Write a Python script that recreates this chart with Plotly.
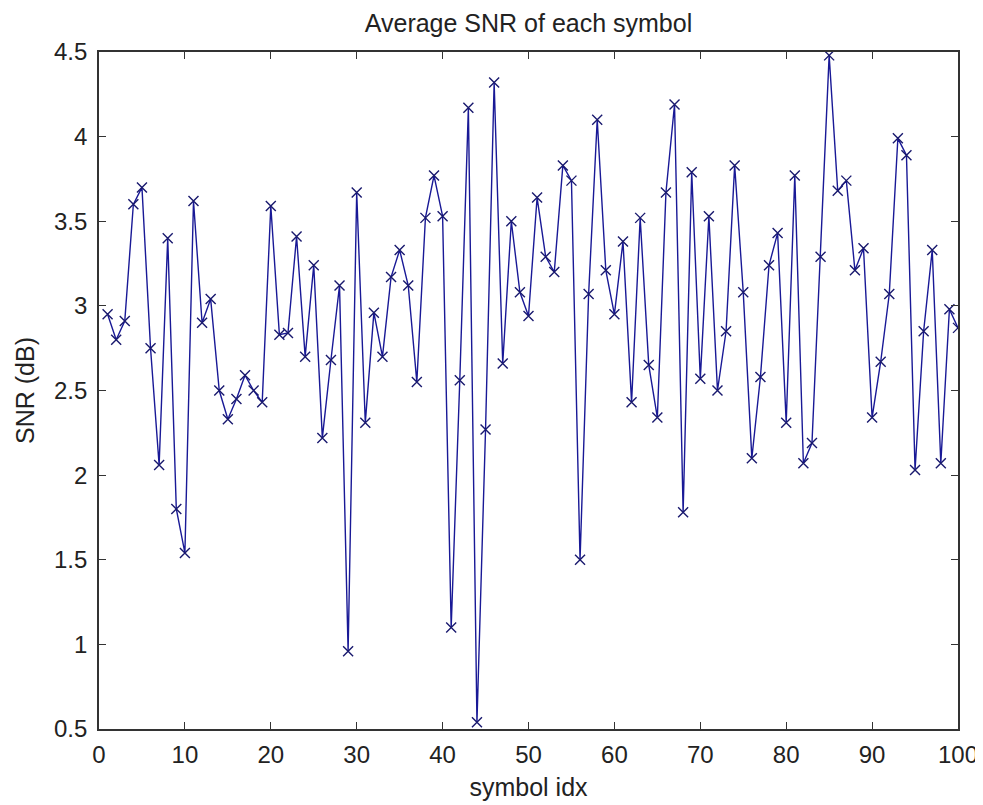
import plotly.graph_objects as go

# symbol index and average SNR (dB)
symbol_idx = list(range(1, 101))
snr_db = [
    2.95, 2.80, 2.91, 3.60, 3.70, 2.75, 2.06, 3.40, 1.80, 1.54,
    3.62, 2.90, 3.04, 2.50, 2.33, 2.45, 2.59, 2.50, 2.43, 3.59,
    2.83, 2.84, 3.41, 2.70, 3.24, 2.22, 2.68, 3.12, 0.96, 3.67,
    2.31, 2.96, 2.70, 3.17, 3.33, 3.12, 2.55, 3.52, 3.77, 3.53,
    1.10, 2.56, 4.17, 0.54, 2.27, 4.32, 2.66, 3.50, 3.08, 2.94,
    3.64, 3.29, 3.20, 3.83, 3.74, 1.50, 3.07, 4.10, 3.21, 2.95,
    3.38, 2.43, 3.52, 2.65, 2.34, 3.67, 4.19, 1.78, 3.79, 2.57,
    3.53, 2.50, 2.85, 3.83, 3.08, 2.10, 2.58, 3.24, 3.43, 2.31,
    3.77, 2.07, 2.19, 3.29, 4.48, 3.68, 3.74, 3.21, 3.34, 2.34,
    2.67, 3.07, 3.99, 3.89, 2.03, 2.85, 3.33, 2.07, 2.98, 2.87,
]

x_ticks = [0, 10, 20, 30, 40, 50, 60, 70, 80, 90, 100]
y_ticks = [0.5, 1, 1.5, 2, 2.5, 3, 3.5, 4, 4.5]

line_col = "rgb(25,25,150)"
font_fam = "Liberation Sans, Arial"

fig = go.Figure()
fig.add_trace(go.Scatter(
    x=symbol_idx, y=snr_db, mode="lines+markers",
    line=dict(color=line_col, width=1.4),
    marker=dict(symbol="x-thin", size=10, line=dict(color="rgb(25,25,110)", width=1.4)),
    showlegend=False,
))

axis_common = dict(
    showgrid=False, zeroline=False, showline=True, linecolor="#333", linewidth=1.8,
    mirror="ticks", ticks="inside", ticklen=7, tickwidth=1.4, tickcolor="#333",
    tickfont=dict(family=font_fam, size=24, color="#222"),
)

# page has an 8px body margin, so margins are shifted accordingly
fig.update_layout(
    width=983, height=805,
    margin=dict(l=91, r=33, t=44, b=84),
    paper_bgcolor="white", plot_bgcolor="white",
    title=dict(text="Average SNR of each symbol", x=0.5, xanchor="center", xref="paper",
               y=0.981, yanchor="middle", automargin=False,
               font=dict(family=font_fam, size=25, color="#222")),
    xaxis=dict(axis_common, range=[0, 100], tickvals=x_ticks, ticklabelstandoff=3,
               title=dict(text="symbol idx", standoff=12,
                          font=dict(family=font_fam, size=25, color="#222"))),
    yaxis=dict(axis_common, range=[0.5, 4.5], tickvals=y_ticks, ticklabelstandoff=5,
               ticktext=[str(v) for v in y_ticks],
               title=dict(text="SNR (dB)", standoff=12,
                          font=dict(family=font_fam, size=25, color="#222"))),
)

fig.write_html("out.html")
